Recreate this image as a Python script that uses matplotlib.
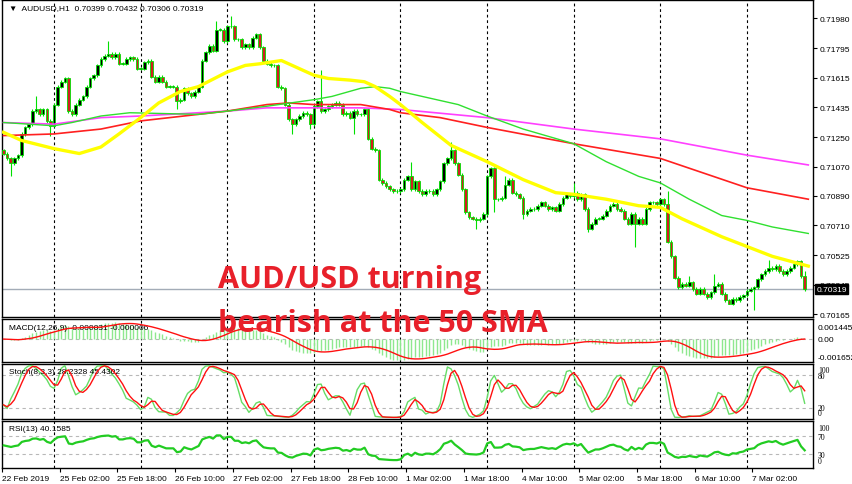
import numpy as np
import pandas as pd
import matplotlib
matplotlib.use("Agg")
import matplotlib.pyplot as plt
import matplotlib.transforms as mtransforms
from matplotlib.patches import Rectangle

# hourly closes, AUDUSD H1, 22 Feb 10:00 .. 7 Mar 16:00
closes = [
    0.7115, 0.7112, 0.7109, 0.7112, 0.7114, 0.7127, 0.7131, 0.7133, 0.7141, 0.7142,
    0.7139, 0.7142, 0.7135, 0.7132, 0.7145, 0.7156, 0.7159, 0.7161, 0.7141, 0.7139,
    0.7145, 0.7148, 0.7150, 0.7156, 0.7161, 0.7163, 0.7169, 0.7173, 0.7175, 0.7176,
    0.7174, 0.7176, 0.7170, 0.7170, 0.7173, 0.7174, 0.7173, 0.7167, 0.7167, 0.7171,
    0.7172, 0.7162, 0.7159, 0.7162, 0.7159, 0.7156, 0.7156, 0.7156, 0.7147, 0.7148,
    0.7155, 0.7152, 0.7150, 0.7153, 0.7156, 0.7172, 0.7177, 0.7181, 0.7178, 0.7191,
    0.7191, 0.7184, 0.7193, 0.7193, 0.7185, 0.7185, 0.7180, 0.7182, 0.7180, 0.7186,
    0.7188, 0.7180, 0.7172, 0.7170, 0.7169, 0.7169, 0.7156, 0.7155, 0.7145, 0.7136,
    0.7133, 0.7136, 0.7138, 0.7140, 0.7139, 0.7133, 0.7144, 0.7147, 0.7141, 0.7142,
    0.7144, 0.7145, 0.7146, 0.7145, 0.7139, 0.7140, 0.7137, 0.7141, 0.7139, 0.7139,
    0.7142, 0.7124, 0.7118, 0.7117, 0.7099, 0.7097, 0.7095, 0.7093, 0.7092, 0.7092,
    0.7093, 0.7099, 0.7101, 0.7093, 0.7098, 0.7092, 0.7090, 0.7092, 0.7092, 0.7090,
    0.7093, 0.7098, 0.7109, 0.7112, 0.7117, 0.7109, 0.7102, 0.7093, 0.7079, 0.7076,
    0.7075, 0.7074, 0.7075, 0.7078, 0.7101, 0.7106, 0.7087, 0.7087, 0.7088, 0.7096,
    0.7099, 0.7091, 0.7090, 0.7088, 0.7078, 0.7080, 0.7081, 0.7081, 0.7083, 0.7085,
    0.7083, 0.7081, 0.7082, 0.7080, 0.7084, 0.7088, 0.7090, 0.7089, 0.7091, 0.7087,
    0.7090, 0.7081, 0.7069, 0.7072, 0.7075, 0.7075, 0.7077, 0.7080, 0.7083, 0.7084,
    0.7081, 0.7080, 0.7075, 0.7072, 0.7078, 0.7072, 0.7075, 0.7072, 0.7081, 0.7085,
    0.7085, 0.7084, 0.7087, 0.7084, 0.7061, 0.7052, 0.7039, 0.7033, 0.7035, 0.7034,
    0.7036, 0.7032, 0.7029, 0.7032, 0.7029, 0.7027, 0.7030, 0.7034, 0.7035, 0.7029,
    0.7025, 0.7023, 0.7026, 0.7025, 0.7027, 0.7028, 0.7031, 0.7032, 0.7033, 0.7038,
    0.7041, 0.7043, 0.7045, 0.7044, 0.7046, 0.7043, 0.7041, 0.7043, 0.7045, 0.7047,
    0.7049, 0.70399, 0.70319,
]
first_open = 0.7117

# long wicks that stand out
wick_high = {9: 0.7150, 29: 0.7184, 59: 0.7196, 63: 0.7199, 88: 0.7166, 113: 0.7110,
             124: 0.7122, 139: 0.7101, 158: 0.7097, 184: 0.7092, 190: 0.7040,
             197: 0.7041, 212: 0.7050, 222: 0.70432}
wick_low = {2: 0.7101, 13: 0.7126, 48: 0.7142, 80: 0.7127, 85: 0.7130, 97: 0.7127,
            108: 0.7091, 131: 0.7069, 136: 0.7079, 144: 0.7075, 162: 0.7067,
            175: 0.7058, 201: 0.7023, 208: 0.7019, 222: 0.70306}

# moving averages (bar index, price)
sma50_idx = [0, 5, 14, 21, 27, 32, 38, 43, 49, 54, 62, 67, 71, 77, 82, 86, 90, 96, 100,
             103, 107, 110, 116, 124, 134, 144, 153, 158, 167, 176, 182, 188, 199, 206, 213, 223]
sma50_val = [0.7128, 0.7123, 0.7118, 0.7115, 0.7119, 0.7127, 0.7137, 0.7146, 0.7153, 0.7156,
             0.7165, 0.7169, 0.7170, 0.7172, 0.7167, 0.7163, 0.7161, 0.7160, 0.7159,
             0.7156, 0.7150, 0.7145, 0.7134, 0.7120, 0.7110, 0.7099, 0.7091, 0.7090,
             0.7087, 0.7083, 0.7082, 0.7075, 0.7064, 0.7058, 0.7052, 0.7046]
sma100_idx = [0, 14, 19, 27, 35, 54, 62, 73, 86, 91, 99, 103, 107, 110, 116, 126, 134,
              144, 158, 167, 176, 182, 190, 199, 206, 213, 223]
sma100_val = [0.7134, 0.7132, 0.7134, 0.7138, 0.7140, 0.7139, 0.7141, 0.7144, 0.7148,
              0.7150, 0.7155, 0.7156, 0.7155, 0.7153, 0.7150, 0.7145, 0.7138, 0.7130,
              0.7121, 0.7110, 0.7101, 0.7097, 0.7087, 0.7077, 0.7074, 0.7070, 0.7066]
sma200_idx = [0, 14, 27, 38, 54, 62, 73, 79, 86, 99, 107, 110, 121, 134, 158, 182, 206, 223]
sma200_val = [0.7126, 0.7127, 0.7130, 0.7135, 0.7139, 0.7141, 0.7145, 0.7146, 0.7145,
              0.7145, 0.7142, 0.7140, 0.7137, 0.7131, 0.7121, 0.7112, 0.7094, 0.7087]
ma300_idx = [0, 14, 27, 38, 54, 62, 73, 86, 99, 110, 134, 158, 182, 206, 223]
ma300_val = [0.7134, 0.7133, 0.7137, 0.7138, 0.7140, 0.7141, 0.7143, 0.7143, 0.7143,
             0.7142, 0.7137, 0.7130, 0.7124, 0.7114, 0.7108]

price_ticks = [0.71980, 0.71795, 0.71615, 0.71435, 0.71250, 0.71070, 0.70890,
               0.70710, 0.70525, 0.70345, 0.70165]
day_starts = [14, 38, 62, 86, 110, 134, 158, 182, 206]
time_pos = [0, 16, 32, 48, 64, 80, 96, 112, 128, 144, 160, 176, 192, 208]
time_labels = ["22 Feb 2019", "25 Feb 02:00", "25 Feb 18:00", "26 Feb 10:00",
               "27 Feb 02:00", "27 Feb 18:00", "28 Feb 10:00", "1 Mar 02:00",
               "1 Mar 18:00", "4 Mar 10:00", "5 Mar 02:00", "5 Mar 18:00",
               "6 Mar 10:00", "7 Mar 02:00"]

# ---- ohlc and indicators
c = pd.Series(closes)
o = c.shift(1).fillna(first_open)
wick = 0.0001
h = np.maximum(o, c) + wick
l = np.minimum(o, c) - wick
for k, v in wick_high.items():
    h[k] = v
for k, v in wick_low.items():
    l[k] = v
n = len(c)
x = np.arange(n)

macd = c.ewm(span=12, adjust=False).mean() - c.ewm(span=26, adjust=False).mean()
macd_sig = macd.rolling(9, min_periods=1).mean()

ll = l.rolling(8, min_periods=1).min()
hh = h.rolling(8, min_periods=1).max()
k_line = 100 * (c - ll).rolling(3, min_periods=1).sum() / (hh - ll).rolling(3, min_periods=1).sum()
d_line = k_line.rolling(3, min_periods=1).mean()

# rsi, averages start from a neutral state (history before the window is not shown)
rsi_seed = 0.00035
delta = c.diff().fillna(0)
gain = delta.clip(lower=0)
loss = -delta.clip(upper=0)
gain[0] = rsi_seed
loss[0] = rsi_seed
up = gain.ewm(alpha=1 / 13, adjust=False).mean()
dn = loss.ewm(alpha=1 / 13, adjust=False).mean()
rsi = 100 - 100 / (1 + up / dn)

# ---- figure
W, H = 852, 485
fig = plt.figure(figsize=(W / 100, H / 100), dpi=100)
small = ['Liberation Sans', 'DejaVu Sans']
serif = ['Liberation Serif', 'DejaVu Serif']
xl = ((2 - 3.5) / 3.609, (813 - 3.5) / 3.609)


def panel(top, bottom):
    ax = fig.add_axes([2 / W, 1 - bottom / H, 811 / W, (bottom - top) / H])
    ax.set_xlim(*xl)
    ax.set_xticks([])
    ax.set_yticks([])
    for s in ax.spines.values():
        s.set_color('black')
        s.set_linewidth(1)
    for d in day_starts:
        ax.axvline(d, color='black', lw=0.8, ls=(0, (2.5, 2.5)), zorder=1)
    return ax


def ylabel(y, s, fam=small, size=6):
    fig.text(818 / W, 1 - y / H, s, fontsize=size, family=fam, va='center', ha='left')


# main price panel
ax = panel(1, 318)
ax.set_ylim(0.70148, 0.72091)
ax.axhline(0.70319, color='#a3acb7', lw=1, zorder=2)
ax.vlines(x, l, h, color='#00e000', lw=0.8, zorder=3)
for i in range(n):
    bull = c[i] >= o[i]
    ax.add_patch(Rectangle((i - 0.36, min(o[i], c[i])), 0.72,
                           max(abs(c[i] - o[i]), 0.00002),
                           facecolor='black' if bull else '#d02020',
                           edgecolor='#00e000', lw=0.6, zorder=4))
ax.plot(ma300_idx, ma300_val, color='#ff40ff', lw=1.2, zorder=5)
ax.plot(sma200_idx, sma200_val, color='#ff2020', lw=1.2, zorder=5)
ax.plot(sma100_idx, sma100_val, color='#30e030', lw=1.0, zorder=5)
ax.plot(sma50_idx, sma50_val, color='#ffff00', lw=2.4, zorder=6)
ax.yaxis.tick_right()
ax.set_yticks(price_ticks)
ax.set_yticklabels(["%.5f" % t for t in price_ticks], fontsize=6, family=small)
ax.tick_params(axis='y', length=3, pad=2)
tr = mtransforms.blended_transform_factory(ax.transAxes, ax.transData)
ax.text(1.004, 0.70319, "0.70319", transform=tr, fontsize=6, family=small,
        color='white', va='center', ha='left',
        bbox=dict(facecolor='black', edgecolor='black', pad=1.2), zorder=10)
ax.text(7 / 811, 0.975, "\u25bc  AUDUSD,H1  0.70399 0.70432 0.70306 0.70319",
        transform=ax.transAxes, fontsize=6, family=small, va='center', ha='left')

# MACD
am = panel(320, 363)
am.set_ylim(-0.001652, 0.001445)
am.axhline(0, color='#b8b8b8', lw=0.8, ls=(0, (3, 3)))
am.vlines(x, 0, macd, color='#8ee88e', lw=1.0, zorder=3)
am.plot(x, macd_sig, color='#ff1010', lw=1.0, zorder=4)
am.text(7 / 811, 0.8, "MACD(12,26,9) -0.000031 -0.000006", transform=am.transAxes,
        fontsize=6, family=small, va='center', ha='left')
ylabel(328, "0.001445")
ylabel(341, "0.00")
ylabel(358, "-0.001652")

# Stochastic
ast = panel(365, 419.5)
ast.set_ylim(0, 100)
for lev in (80, 20):
    ast.axhline(lev, color='#b8b8b8', lw=0.8, ls=(0, (3, 3)))
ast.plot(x, k_line, color='#66dd66', lw=1.0, zorder=3)
ast.plot(x, d_line, color='#ff1010', lw=1.0, zorder=4)
ast.text(7 / 811, 0.86, "Stoch(8,3,3) 28.2328 45.4302", transform=ast.transAxes,
         fontsize=6, family=small, va='center', ha='left')
ylabel(371, "100", serif, 5.5)
ylabel(377, "80", serif, 5.5)
ylabel(409, "20", serif, 5.5)
ylabel(414, "0", serif, 5.5)

# RSI
ar = panel(422, 469)
ar.set_ylim(0, 104)
for lev in (70, 30):
    ar.axhline(lev, color='#b8b8b8', lw=0.8, ls=(0, (3, 3)))
ar.plot(x, rsi, color='#22cc22', lw=1.6, zorder=3)
ar.text(7 / 811, 0.83, "RSI(13) 40.1585", transform=ar.transAxes,
        fontsize=6, family=small, va='center', ha='left')
ylabel(429, "100", serif, 5.5)
ylabel(438, "70", serif, 5.5)
ylabel(456, "30", serif, 5.5)
ylabel(462, "0", serif, 5.5)
ar.set_xticks([p - 0.5 for p in time_pos])
ar.set_xticklabels(time_labels, fontsize=6, family=small, ha='left')
ar.tick_params(axis='x', length=3, pad=2)

# annotation
red = '#e8202a'
fig.text(218 / W, 1 - 288 / H, "AUD/USD turning", fontsize=22, fontweight='bold',
         color=red, family=['Open Sans', 'DejaVu Sans'], va='baseline', ha='left')
fig.text(218 / W, 1 - 332 / H, "bearish at the 50 SMA", fontsize=22, fontweight='bold',
         color=red, family=['Open Sans', 'DejaVu Sans'], va='baseline', ha='left')

fig.savefig("out.png", dpi=100)
